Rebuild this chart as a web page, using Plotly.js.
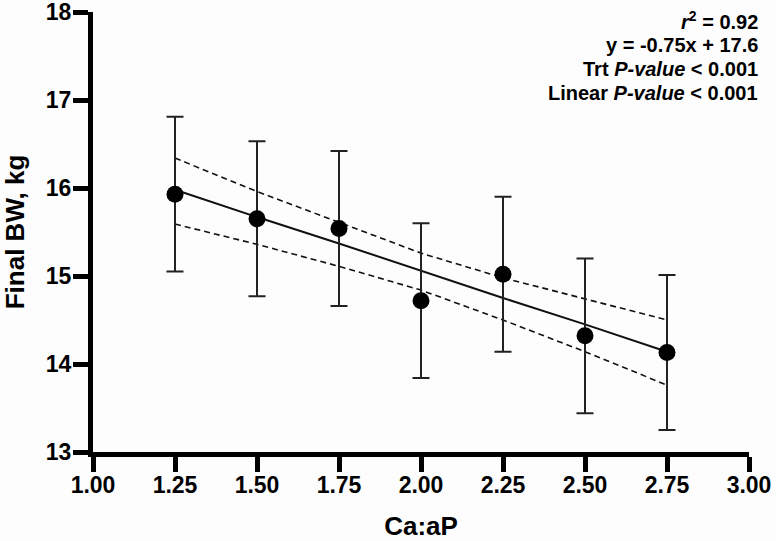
<!DOCTYPE html>
<html>
<head>
<meta charset="utf-8">
<script src="https://cdn.plot.ly/plotly-3.0.1.min.js"></script>
<style>
  body { margin: 0; background: #fdfdfd; }
  #chart { width: 776px; height: 541px; }
</style>
</head>
<body>
<div id="chart"></div>
<script>
// Ca:aP ratio treatments
const ratio = [1.25, 1.50, 1.75, 2.00, 2.25, 2.50, 2.75];
// final body weight, kg (mean and error)
const finalBW = [15.93, 15.65, 15.54, 14.72, 15.02, 14.32, 14.13];
const bwErr = [0.88, 0.88, 0.88, 0.88, 0.88, 0.88, 0.88];
// fitted line and its confidence band, as drawn
const fitLine = [15.98, 15.67, 15.37, 15.06, 14.75, 14.45, 14.14];
const bandUpper = [16.34, 15.96, 15.61, 15.26, 14.98, 14.74, 14.50];
const bandLower = [15.59, 15.36, 15.11, 14.84, 14.50, 14.14, 13.76];

const statLines = [
    "<i>r</i><sup>2</sup> = 0.92",
    "y = -0.75x + 17.6",
    "Trt <i>P-value</i> < 0.001",
    "Linear <i>P-value</i> < 0.001"
];

const font = "Liberation Sans, Arial, sans-serif";

const traces = [
    {
        x: ratio, y: bandUpper,
        mode: "lines",
        line: { color: "#111", width: 1.6, dash: "6px,4px" },
        hoverinfo: "skip"
    },
    {
        x: ratio, y: bandLower,
        mode: "lines",
        line: { color: "#111", width: 1.6, dash: "6px,4px" },
        hoverinfo: "skip"
    },
    {
        x: ratio, y: fitLine,
        mode: "lines",
        line: { color: "#111", width: 2 },
        hoverinfo: "skip"
    },
    {
        x: ratio, y: finalBW,
        mode: "markers",
        marker: { color: "#000", size: 17 },
        error_y: { type: "data", array: bwErr, visible: true, color: "#222", thickness: 2, width: 8.5 }
    }
];

// plot area spans 440px vertically, starting 12px from top
const plotTop = 12, plotH = 440;
const lineY = [20, 45, 69, 93];

const annotations = statLines.map((t, i) => ({
    xref: "paper", yref: "paper",
    x: 1.0175, y: 1 - (lineY[i] - plotTop) / plotH,
    xanchor: "right", yanchor: "middle",
    align: "right",
    showarrow: false,
    text: "<b>" + t + "</b>",
    font: { size: 20, family: font, color: "#000" }
}));

const layout = {
    width: 776,
    height: 541,
    showlegend: false,
    paper_bgcolor: "#fdfdfd",
    plot_bgcolor: "#fdfdfd",
    margin: { l: 93, r: 27, t: plotTop, b: 541 - plotTop - plotH },
    font: { family: font, color: "#000" },
    xaxis: {
        range: [1, 3],
        tickvals: [1, 1.25, 1.5, 1.75, 2, 2.25, 2.5, 2.75, 3],
        ticktext: ["1.00", "1.25", "1.50", "1.75", "2.00", "2.25", "2.50", "2.75", "3.00"],
        showgrid: false,
        zeroline: false,
        showline: true,
        linecolor: "#000",
        linewidth: 5,
        ticks: "outside",
        ticklen: 15,
        tickwidth: 5,
        tickcolor: "#000",
        ticklabelstandoff: -7,
        ticklabeloverflow: "allow",
        tickfont: { size: 23, family: font, weight: "bold" },
        title: { text: "<b>Ca:aP</b>", font: { size: 26, family: font }, standoff: 30 }
    },
    yaxis: {
        range: [13, 18],
        tickvals: [13, 14, 15, 16, 17, 18],
        showgrid: false,
        zeroline: false,
        showline: true,
        linecolor: "#000",
        linewidth: 5,
        ticks: "outside",
        ticklen: 15,
        tickwidth: 5,
        tickcolor: "#000",
        ticklabelstandoff: -3,
        ticklabeloverflow: "allow",
        tickfont: { size: 23, family: font, weight: "bold" },
        title: { text: "<b>Final BW, kg</b>", font: { size: 26, family: font }, standoff: 18 }
    },
    annotations: annotations
};

Plotly.newPlot("chart", traces, layout, { displayModeBar: false, staticPlot: true });
</script>
</body>
</html>
